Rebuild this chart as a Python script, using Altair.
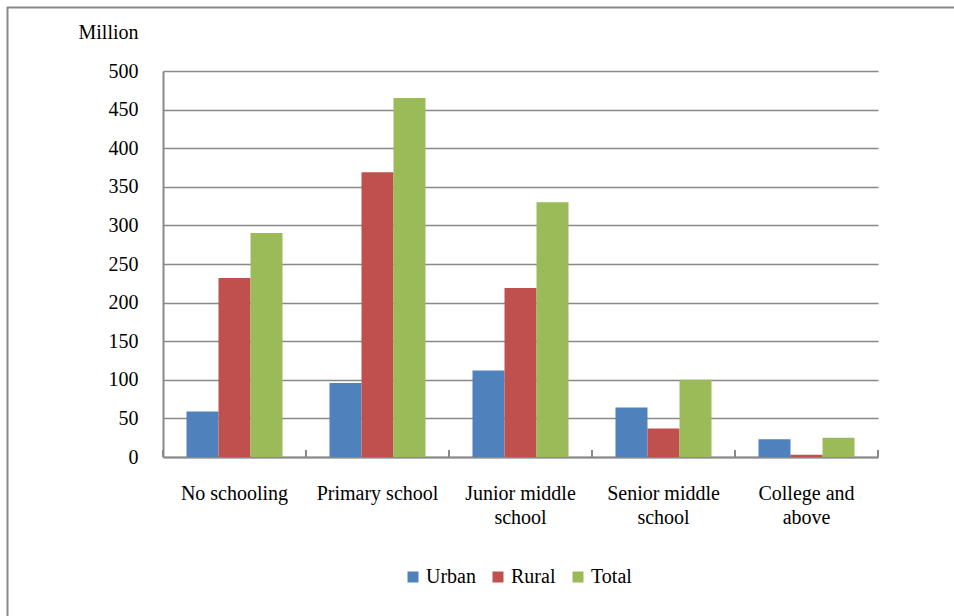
import altair as alt
import pandas as pd

# Population by educational attainment (million)
categories = [
    "No schooling",
    "Primary school",
    "Junior middle\nschool",
    "Senior middle\nschool",
    "College and\nabove",
]
series = ["Urban", "Rural", "Total"]
urban = [59, 96, 112, 64, 23]
rural = [232, 369, 219, 37, 3]
total = [290, 465, 330, 100, 25]
colors = ["#4F81BD", "#C0504D", "#9BBB59"]
y_ticks = list(range(0, 501, 50))

FONT = "'Liberation Serif', 'Times New Roman', Times, serif"
GRAY = "#898989"

rows = []
for name, values in zip(series, [urban, rural, total]):
    for cat, v in zip(categories, values):
        rows.append({"category": cat, "series": name, "value": v})
df = pd.DataFrame(rows)
cat_df = pd.DataFrame({"category": categories})

x_scale = alt.Scale(paddingInner=0, paddingOuter=0)

bars = alt.Chart(df).mark_bar().encode(
    x=alt.X(
        "category:N",
        sort=categories,
        scale=x_scale,
        title="",
        axis=alt.Axis(
            labelAngle=0,
            ticks=False,
            labelPadding=26,
            labelExpr="split(datum.label, '\\n')",
            labelLineHeight=24,
            labelFont=FONT,
            labelFontSize=20,
            labelColor="#000000",
            domainColor=GRAY,
            domainWidth=2,
            grid=False,
        ),
    ),
    xOffset=alt.XOffset(
        "series:N", sort=series, scale=alt.Scale(paddingInner=0, paddingOuter=0.734)
    ),
    y=alt.Y(
        "value:Q",
        scale=alt.Scale(domain=[0, 500], nice=False),
        axis=alt.Axis(
            values=y_ticks,
            ticks=False,
            labelPadding=25,
            labelFont=FONT,
            labelFontSize=20,
            labelColor="#000000",
            domainColor=GRAY,
            domainWidth=2,
            gridColor=GRAY,
            gridWidth=1.6,
            title="Million",
            titleFont=FONT,
            titleFontSize=20,
            titleFontWeight="normal",
            titleColor="#000000",
            titleAngle=0,
            titleAlign="right",
            titleBaseline="middle",
            titleX=-25,
            titleY=-39,
        ),
    ),
    color=alt.Color(
        "series:N",
        sort=series,
        scale=alt.Scale(domain=series, range=colors),
        legend=alt.Legend(
            title="",
            orient="none",
            direction="horizontal",
            legendX=240,
            legendY=496,
            symbolType="square",
            symbolSize=121,
            symbolStrokeWidth=0,
            symbolOpacity=1,
            labelFont=FONT,
            labelFontSize=20,
            labelColor="#000000",
            labelOffset=3,
            columnPadding=12,
        ),
    ),
)

# inward tick marks at the category boundaries
tick_left = alt.Chart(cat_df).mark_rule(color=GRAY, strokeWidth=2).encode(
    x=alt.X("category:N", sort=categories, bandPosition=0),
    y=alt.value(386),
    y2=alt.value(379),
)
tick_right = alt.Chart(cat_df).mark_rule(color=GRAY, strokeWidth=2).encode(
    x=alt.X("category:N", sort=categories, bandPosition=1),
    y=alt.value(386),
    y2=alt.value(379),
)

# outer frame lines (left and top edges)
frame_left = alt.Chart(cat_df.head(1)).mark_rule(color=GRAY, strokeWidth=2).encode(
    x=alt.value(-155.5), y=alt.value(-64), y2=alt.value(560)
)
frame_top = alt.Chart(cat_df.head(1)).mark_rule(color=GRAY, strokeWidth=2).encode(
    x=alt.value(-156), x2=alt.value(800), y=alt.value(-63.5)
)

chart = (
    alt.layer(bars, tick_left, tick_right, frame_left, frame_top)
    .properties(
        width=715,
        height=386,
        autosize=alt.AutoSizeParams(type="none"),
        padding={"left": 163, "top": 71, "right": 76, "bottom": 159},
        background="#ffffff",
    )
    .configure_view(strokeWidth=0)
)

chart.save("out.html", embed_options={"renderer": "svg", "actions": False})
